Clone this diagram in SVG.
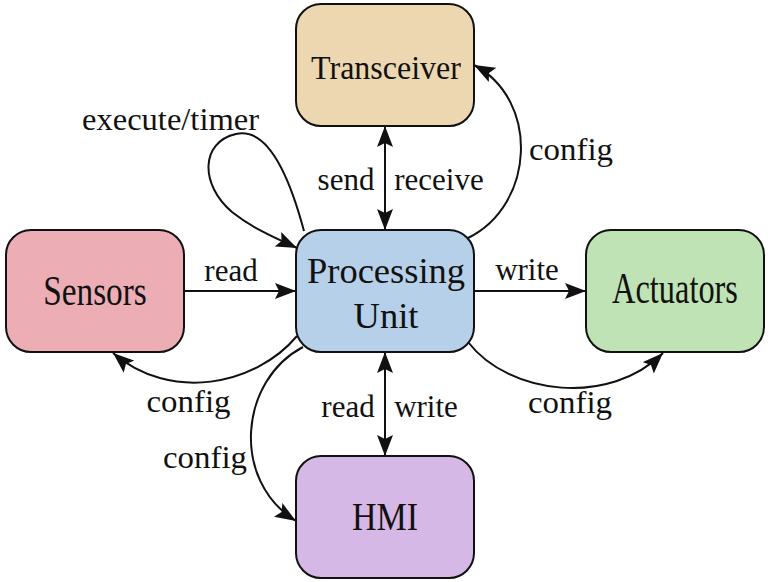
<svg xmlns="http://www.w3.org/2000/svg" width="773" height="582" viewBox="0 0 773 582">
<style>
.node{stroke:#111;stroke-width:2}
.nt{font-family:"Liberation Serif","Times New Roman",serif;fill:#111;text-anchor:middle}
.lb{font-family:"Liberation Serif","Times New Roman",serif;font-size:31px;fill:#111;text-anchor:middle}
.e{fill:none;stroke:#111;stroke-width:2}
</style>
<defs>
<marker id="ah" markerUnits="userSpaceOnUse" markerWidth="22" markerHeight="16" refX="21" refY="8" orient="auto-start-reverse" viewBox="0 0 22 16">
<path d="M0,0 L21,8 L0,16 L4,8 z" fill="#111"/>
</marker>
</defs>
<rect width="773" height="582" fill="#fff"/>
<g id="connectors">
<path class="e" d="M184,291 L296,291" marker-end="url(#ah)"/>
<path class="e" d="M474,291 L586,291" marker-end="url(#ah)"/>
<path class="e" d="M385,126 L385,230" marker-start="url(#ah)" marker-end="url(#ah)"/>
<path class="e" d="M385,352 L385,456" marker-start="url(#ah)" marker-end="url(#ah)"/>
<path class="e" d="M304,231 C285,160 262,128 236,134 C200,142 200,185 232,212 C252,228 275,238 297,248" marker-end="url(#ah)"/>
<path class="e" d="M468,238 C535,205 540,100 474,65" marker-end="url(#ah)"/>
<path class="e" d="M297,336 C255,386 170,402 113,353" marker-end="url(#ah)"/>
<path class="e" d="M468,342 C510,396 610,406 663,353" marker-end="url(#ah)"/>
<path class="e" d="M303,347 C240,380 230,480 296,521" marker-end="url(#ah)"/>
<text class="lb" x="170.5" y="130" textLength="177" lengthAdjust="spacingAndGlyphs">execute/timer</text>
<text class="lb" x="571" y="160" textLength="84" lengthAdjust="spacingAndGlyphs">config</text>
<text class="lb" x="346" y="190">send</text>
<text class="lb" x="439" y="190">receive</text>
<text class="lb" x="231" y="281">read</text>
<text class="lb" x="527" y="280">write</text>
<text class="lb" x="188.5" y="412" textLength="84" lengthAdjust="spacingAndGlyphs">config</text>
<text class="lb" x="205" y="468" textLength="84" lengthAdjust="spacingAndGlyphs">config</text>
<text class="lb" x="348" y="417">read</text>
<text class="lb" x="426" y="417">write</text>
<text class="lb" x="570" y="413" textLength="84" lengthAdjust="spacingAndGlyphs">config</text>
</g>
<g id="transceiver">
<rect class="node" x="296" y="4" width="178" height="122" rx="25" fill="#ecd7b1"/>
<text class="nt" transform="translate(386,79) scale(1,1.07)" font-size="32">Transceiver</text>
</g>
<g id="sensors">
<rect class="node" x="6" y="230" width="178" height="122" rx="25" fill="#edadb5"/>
<text class="nt" transform="translate(95,305) scale(0.98,1.24)" font-size="34">Sensors</text>
</g>
<g id="processing-unit">
<rect class="node" x="296" y="230" width="178" height="122" rx="25" fill="#b5d0e8"/>
<text class="nt" x="386" y="283" font-size="36.5">Processing</text>
<text class="nt" x="386" y="328" font-size="36.5">Unit</text>
</g>
<g id="actuators">
<rect class="node" x="586" y="230" width="178" height="122" rx="25" fill="#c0e3b5"/>
<text class="nt" transform="translate(675,303) scale(0.953,1.3)" font-size="34">Actuators</text>
</g>
<g id="hmi">
<rect class="node" x="296" y="456" width="178" height="122" rx="25" fill="#d6b8e6"/>
<text class="nt" transform="translate(385,530) scale(1,1.19)" font-size="34">HMI</text>
</g>
</svg>
